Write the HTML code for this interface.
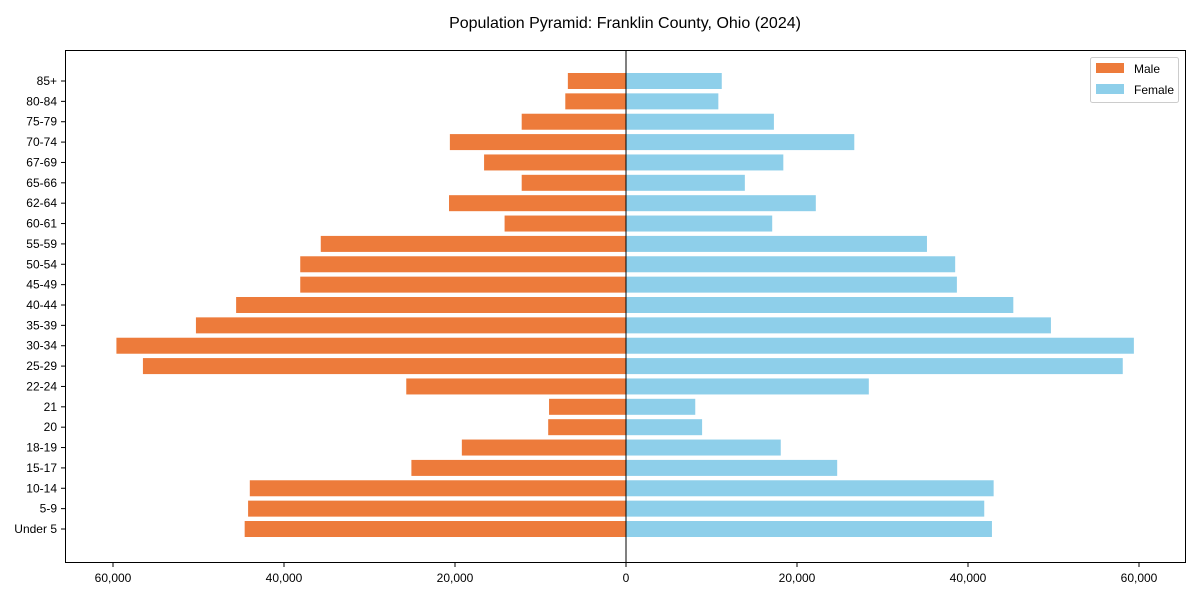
<!DOCTYPE html>
<html><head><meta charset="utf-8"><style>
body{margin:0;background:#fff;}
svg text{font-family:"Liberation Sans",Arial,sans-serif;fill:#000;}
</style></head><body>
<svg id="chart" width="1200" height="600" xmlns="http://www.w3.org/2000/svg">
<text x="625" y="28" text-anchor="middle" font-size="16">Population Pyramid: Franklin County, Ohio (2024)</text>
<g id="bars"></g>
<g id="axes"></g>
<rect x="65.5" y="50.5" width="1120" height="512" fill="none" stroke="#000" stroke-width="1"/>
<g>
<rect x="1090.5" y="57.5" width="88" height="45" fill="#fff" stroke="#ccc" rx="2"/>
<rect x="1096" y="63" width="28" height="10" fill="#ED7B3B"/>
<text x="1134" y="73" font-size="12">Male</text>
<rect x="1096" y="84" width="28" height="10" fill="#8ECFEA"/>
<text x="1134" y="94" font-size="12">Female</text>
</g>
</svg>
<script>
const categories=["85+","80-84","75-79","70-74","67-69","65-66","62-64","60-61","55-59","50-54","45-49","40-44","35-39","30-34","25-29","22-24","21","20","18-19","15-17","10-14","5-9","Under 5"];
const maleValues=[6800,7100,12200,20600,16600,12200,20700,14200,35700,38100,38100,45600,50300,59600,56500,25700,9000,9100,19200,25100,44000,44200,44600];
const femaleValues=[11200,10800,17300,26700,18400,13900,22200,17100,35200,38500,38700,45300,49700,59400,58100,28400,8100,8900,18100,24700,43000,41900,42800];
const tickValues=[-60000,-40000,-20000,0,20000,40000,60000];
const tickLabels=["60,000","40,000","20,000","0","20,000","40,000","60,000"];
const NS="http://www.w3.org/2000/svg";
const x0=626,scale=513/60000;
const xPos=v=>x0+v*scale;
const yPos=i=>81+i*(448/(categories.length-1));
const bh=16;
const bars=document.getElementById('bars'),axes=document.getElementById('axes');
function mk(t,a){const e=document.createElementNS(NS,t);for(const k in a)e.setAttribute(k,a[k]);return e;}
categories.forEach((c,i)=>{
 const y=yPos(i);
 const m=mk('rect',{x:xPos(-maleValues[i]),y:y-bh/2,width:maleValues[i]*scale,height:bh,fill:'#ED7B3B'});
 
 
 bars.appendChild(m);
 const f=mk('rect',{x:x0,y:y-bh/2,width:femaleValues[i]*scale,height:bh,fill:'#8ECFEA'});
 
 
 bars.appendChild(f);
 const tk=mk('line',{x1:61,x2:65,y1:y,y2:y,stroke:'#000'});
 
 
 axes.appendChild(tk);
 const t=mk('text',{x:57,y:y+4,'text-anchor':'end','font-size':12});
 t.textContent=c;
 
 
 axes.appendChild(t);
});
const zl=mk('line',{x1:x0,x2:x0,y1:50,y2:562,stroke:'#000','stroke-width':1});


axes.appendChild(zl);
tickValues.forEach((v,i)=>{
 const x=xPos(v);
 const tk=mk('line',{x1:x,x2:x,y1:563,y2:567,stroke:'#000'});
 
 
 axes.appendChild(tk);
 const t=mk('text',{x:x,y:582,'text-anchor':'middle','font-size':12});
 t.textContent=tickLabels[i];
 
 
 axes.appendChild(t);
});
</script>
</body></html>
